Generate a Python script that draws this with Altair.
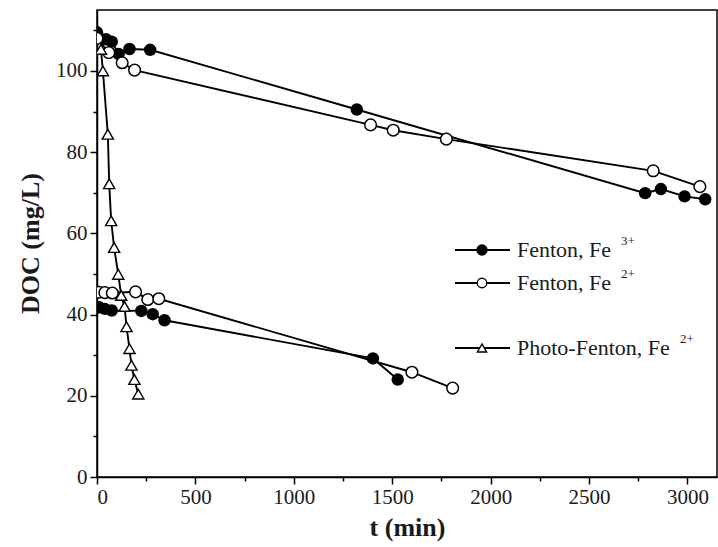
import altair as alt
import pandas as pd

# ---- DOC (mg/L) versus time (min) for each run ----
# Fenton, Fe3+ : high-load run and low-load run
fe3_high_t = [0, 45, 75, 110, 165, 270, 1320, 2785, 2865, 2985, 3090]
fe3_high_doc = [109.5, 107.8, 107.2, 104.2, 105.4, 105.2, 90.5, 69.9, 70.9, 69.1, 68.4]
fe3_low_t = [10, 40, 75, 225, 283, 343, 1402, 1528]
fe3_low_doc = [41.8, 41.4, 41.0, 40.9, 40.1, 38.6, 29.2, 24.0]

# Fenton, Fe2+ : high-load run and low-load run
fe2_high_t = [0, 60, 128, 191, 1390, 1505, 1775, 2826, 3063]
fe2_high_doc = [108.0, 104.5, 102.0, 100.2, 86.7, 85.4, 83.2, 75.4, 71.5]
fe2_low_t = [10, 40, 78, 196, 258, 314, 1600, 1807]
fe2_low_doc = [45.5, 45.4, 45.3, 45.6, 43.7, 43.9, 25.8, 21.9]

# Photo-Fenton, Fe2+
photo_t = [20, 30, 55, 62, 72, 87, 108, 123, 140, 150, 165, 175, 190, 210]
photo_doc = [105.3, 100.0, 84.4, 72.2, 63.1, 56.5, 49.9, 44.7, 42.0, 37.0, 31.6, 27.5, 24.0, 20.4]

x_ticks = list(range(0, 3001, 250))
y_ticks = list(range(0, 111, 10))

legend_text = ["Fenton, Fe", "Fenton, Fe", "Photo-Fenton, Fe"]
legend_sup = ["3+", "2+", "2+"]

runs = [
    ("fe3", "fe3_high", fe3_high_t, fe3_high_doc),
    ("fe3", "fe3_low", fe3_low_t, fe3_low_doc),
    ("fe2", "fe2_high", fe2_high_t, fe2_high_doc),
    ("fe2", "fe2_low", fe2_low_t, fe2_low_doc),
    ("photo", "photo", photo_t, photo_doc),
]
rows = []
for series, run, ts, ds in runs:
    for t, d in zip(ts, ds):
        rows.append({"series": series, "run": run, "t": t, "doc": d})
df = pd.DataFrame(rows)

FONT = "Liberation Serif"
INK = "#1a1a1a"

x_enc = alt.X(
    "t:Q",
    scale=alt.Scale(domain=[0, 3150], nice=False, zero=False),
    axis=alt.Axis(
        values=x_ticks,
        format="d",
        labelExpr="datum.value % 500 === 0 ? datum.label : ''",
        tickSize={"condition": {"test": "datum.value % 500 === 0", "value": 7}, "value": 4},
        title="t (min)",
        titleX=310,
        titleY=50,
        titleAlign="center",
        titleBaseline="middle",
        labelPadding=2,
    ),
)
y_enc = alt.Y(
    "doc:Q",
    scale=alt.Scale(domain=[0, 115], nice=False, zero=False),
    axis=alt.Axis(
        values=y_ticks,
        format="d",
        labelExpr="datum.value % 20 === 0 ? datum.label : ''",
        tickSize={"condition": {"test": "datum.value % 20 === 0", "value": 7}, "value": 4},
        title="DOC (mg/L)",
        titleX=-67,
        titleY=233,
        titleAngle=-90,
        titleAlign="center",
        titleBaseline="middle",
        labelPadding=3,
    ),
)

base = alt.Chart(df).encode(x=x_enc, y=y_enc)

lines = base.mark_line(color="black", strokeWidth=1.9, clip=True).encode(
    detail="run:N", order="t:Q"
)
filled_pts = base.transform_filter(alt.datum.series == "fe3").mark_point(
    shape="circle", filled=True, color="black", size=155, opacity=1, clip=True
)
open_pts = base.transform_filter(alt.datum.series == "fe2").mark_point(
    shape="circle", filled=True, fill="white", stroke="black", strokeWidth=1.5,
    size=135, opacity=1, clip=True
)
tri_pts = base.transform_filter(alt.datum.series == "photo").mark_point(
    shape="triangle-up", filled=True, fill="white", stroke="black", strokeWidth=1.4,
    size=125, opacity=1, clip=True
)

# ---- key, drawn inside the plot area ----
key_df = pd.DataFrame({"k": [0]})
key_rows_y = [240, 273, 338]
key_styles = [
    dict(shape="circle", fill="black", size=100),
    dict(shape="circle", fill="white", size=90),
    dict(shape="triangle-up", fill="white", size=85),
]
key_layers = []
for i in range(3):
    yy = key_rows_y[i]
    key_layers.append(
        alt.Chart(key_df).mark_rule(color="black", strokeWidth=2).encode(
            x=alt.value(358), x2=alt.value(413), y=alt.value(yy)
        )
    )
    st = key_styles[i]
    key_layers.append(
        alt.Chart(key_df).mark_point(
            shape=st["shape"], filled=True, fill=st["fill"], stroke="black",
            strokeWidth=1.4, size=st["size"], opacity=1
        ).encode(x=alt.value(385), y=alt.value(yy))
    )
    key_layers.append(
        alt.Chart(key_df).mark_text(
            text=legend_text[i], align="left", baseline="middle",
            font=FONT, fontSize=22, color=INK
        ).encode(x=alt.value(420), y=alt.value(yy))
    )
    sup_x = 420 + (96 if i < 2 else 155) + 8
    key_layers.append(
        alt.Chart(key_df).mark_text(
            text=legend_sup[i], align="left", baseline="middle",
            font=FONT, fontSize=13, color=INK
        ).encode(x=alt.value(sup_x), y=alt.value(yy - 9))
    )

chart = (
    alt.layer(lines, filled_pts, open_pts, tri_pts, *key_layers)
    .properties(
        width=620,
        height=467,
        padding={"left": 97, "top": 10, "right": 1, "bottom": 70},
        autosize=alt.AutoSizeParams(type="none"),
        background="white",
    )
    .configure_view(stroke="black", strokeWidth=1.5)
    .configure_axis(
        domainColor="black",
        domainWidth=1.5,
        tickColor="black",
        tickWidth=1.5,
        grid=False,
        labelFont=FONT,
        labelFontSize=21,
        labelColor=INK,
        titleFont=FONT,
        titleFontSize=26,
        titleFontWeight="bold",
        titleColor=INK,
    )
)

chart.save("out.html", embed_options={"renderer": "svg", "actions": False})
